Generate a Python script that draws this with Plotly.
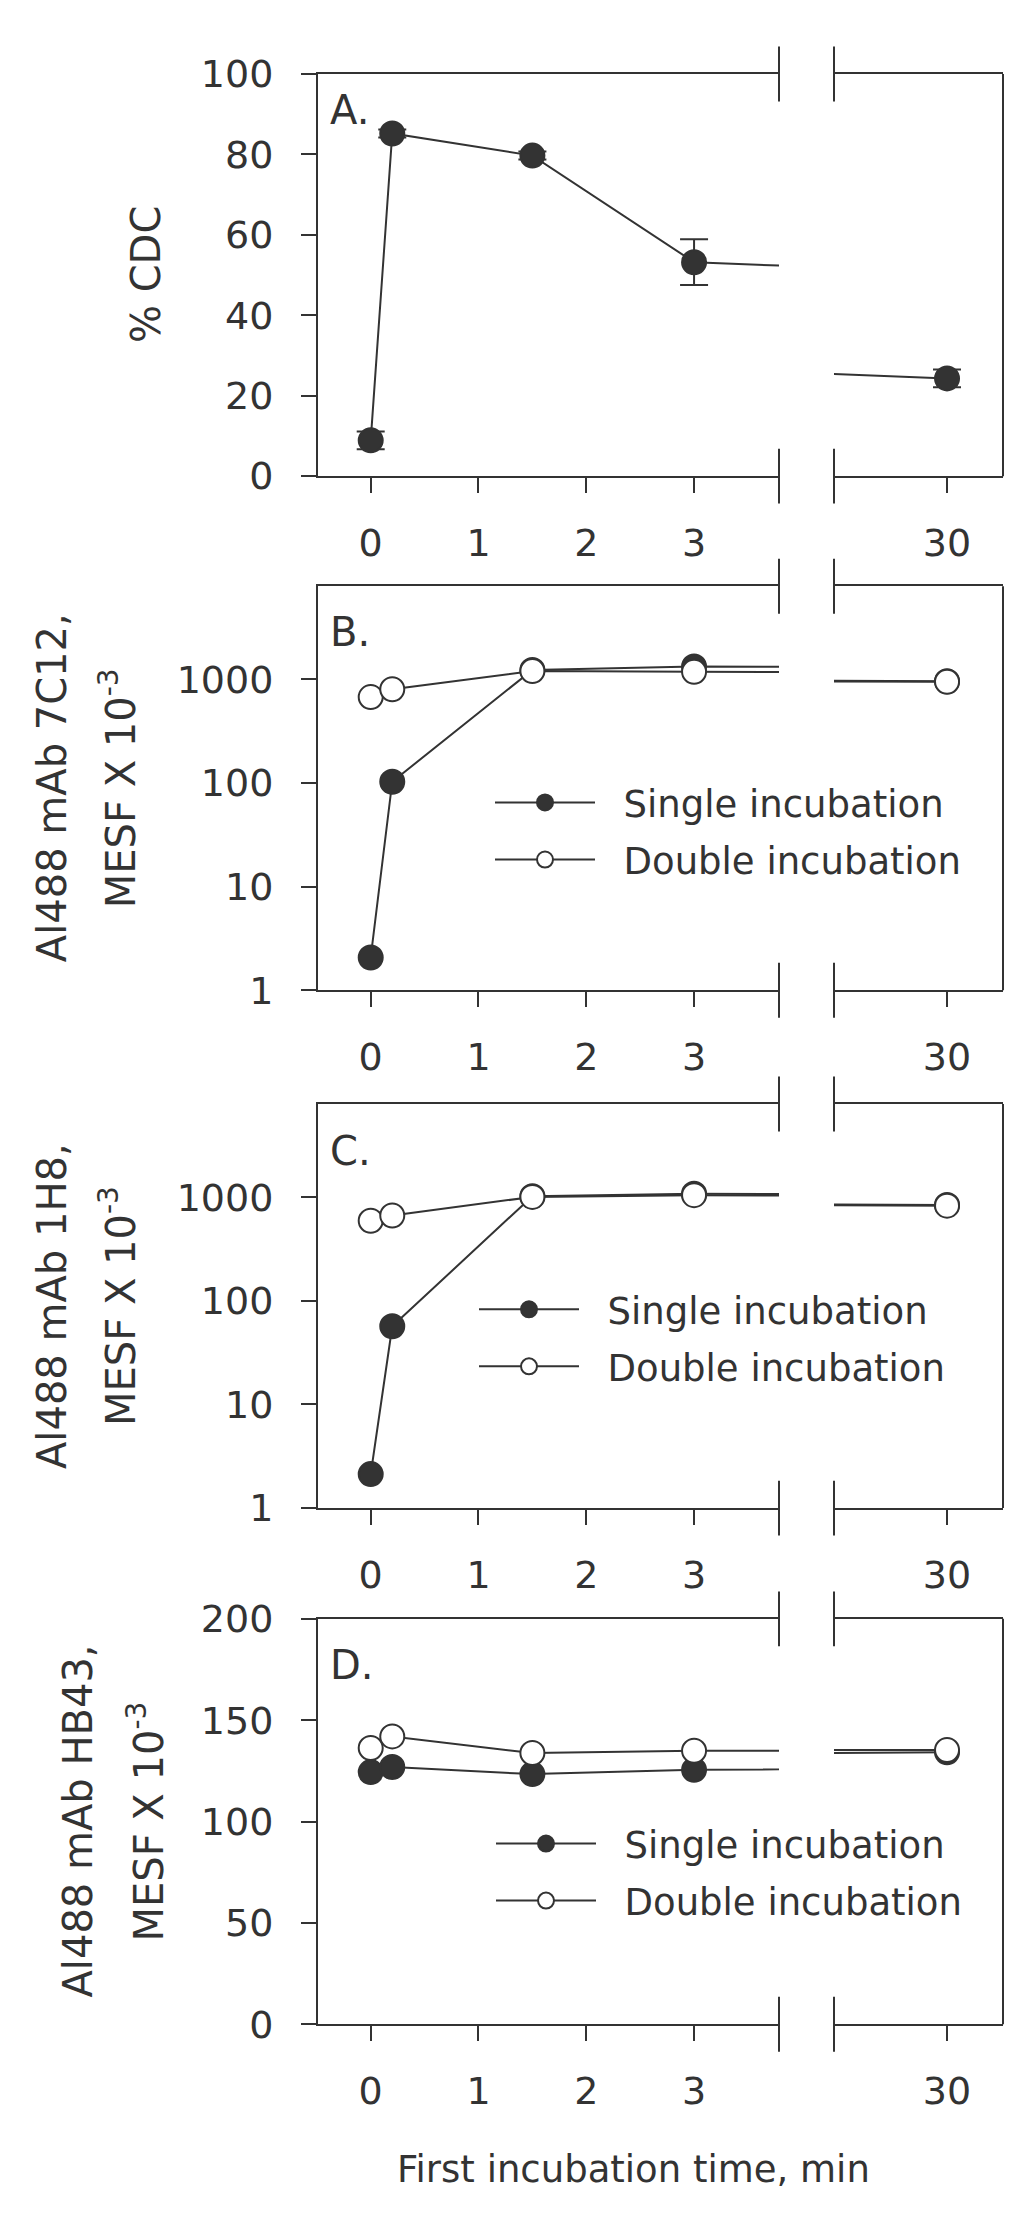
import plotly.graph_objects as go

# ---------------- data ----------------
time_min = [0, 0.2, 1.5, 3, 30]
left_ticks = [0, 1, 2, 3]
right_ticks = [30]

cdc_pct = [8.9, 85.2, 79.7, 53.2, 24.3]
cdc_err = [2.2, 1.0, 1.0, 5.7, 2.2]

mab7c12_single = [2.07, 103, 1236, 1337, 960]
mab7c12_double = [676, 804, 1208, 1189, 950]

mab1h8_single = [2.13, 56.8, 1023, 1081, 840]
mab1h8_double = [592, 666, 1007, 1047, 829]

hb43_single = [124.4, 126.9, 123.4, 125.5, 134.2]
hb43_double = [136.3, 142.0, 133.8, 134.9, 135.3]

series_names = ["Single incubation", "Double incubation"]
panel_letters = ["A.", "B.", "C.", "D."]

# ---------------- layout helpers ----------------
W, H = 1024, 2231
def px2x(p):
    return p / W
def px2y(p):
    return 1 - p / H

INK = "#333333"
FONT = "DejaVu Sans"
L_LEFT, L_RIGHT = 318, 779      # left segment (px)
R_LEFT, R_RIGHT = 834, 1003     # right segment (px)
panels_px = [(53, 463.3), (575.6, 987.7), (1103.7, 1516), (1629, 2042.5)]
NBSP2 = "\u00a0\u00a0"

fig = go.Figure()

def add_series(i, y, name, filled, legend_name, group, err=None, showleg=True):
    for seg in (0, 1):
        xa = "x%d" % (2 * i + 1 + seg)
        ya = "y%d" % (i + 1)
        fig.add_trace(go.Scatter(
            x=time_min, y=y, xaxis=xa, yaxis=ya, mode="lines+markers",
            name=NBSP2 + name,
            legendgroup=group,
            line=dict(color=INK, width=2),
            marker=dict(symbol="circle", size=24,
                        color=INK if filled else "white",
                        line=dict(color=INK, width=2)),
            error_y=(dict(type="data", array=err, color=INK, thickness=2, width=14)
                     if err is not None else None),
            showlegend=(showleg and seg == 0),
            legend=legend_name,
            cliponaxis=True,
        ))

add_series(0, cdc_pct, "% CDC", True, "legend", "a", err=cdc_err, showleg=False)
add_series(1, mab7c12_single, series_names[0], True, "legend", "b1")
add_series(1, mab7c12_double, series_names[1], False, "legend", "b2")
add_series(2, mab1h8_single, series_names[0], True, "legend2", "c1")
add_series(2, mab1h8_double, series_names[1], False, "legend2", "c2")
add_series(3, hb43_single, series_names[0], True, "legend3", "d1")
add_series(3, hb43_double, series_names[1], False, "legend3", "d2")

axis_common = dict(showgrid=False, zeroline=False, showline=True, linecolor=INK,
                   linewidth=2, ticks="outside", ticklen=15, tickwidth=2,
                   tickcolor=INK, tickfont=dict(family=FONT, size=38, color=INK))

y_specs = [
    dict(type="linear", range=[0, 100], tickvals=[0, 20, 40, 60, 80, 100]),
    dict(type="log", range=[0, 3.9], tickvals=[1, 10, 100, 1000],
         ticktext=["1", "10", "100", "1000"]),
    dict(type="log", range=[0, 3.9], tickvals=[1, 10, 100, 1000],
         ticktext=["1", "10", "100", "1000"]),
    dict(type="linear", range=[0, 200], tickvals=[0, 50, 100, 150, 200]),
]

layout = dict(width=W, height=H, margin=dict(l=0, r=0, t=0, b=0),
              paper_bgcolor="white", plot_bgcolor="white", showlegend=True)
shapes = []
annotations = []

for i, (top, bot) in enumerate(panels_px):
    ydom = [px2y(bot), px2y(top)]
    xl = 2 * i + 1
    xr = 2 * i + 2
    yk = i + 1
    layout["xaxis%s" % ("" if xl == 1 else xl)] = dict(
        axis_common, domain=[px2x(L_LEFT), px2x(L_RIGHT)], range=[-0.489, 3.788],
        tickvals=left_ticks, anchor="y%d" % yk, mirror=True, ticklabelstandoff=17)
    layout["xaxis%d" % xr] = dict(
        axis_common, domain=[px2x(R_LEFT), px2x(R_RIGHT)], range=[28.95, 30.52],
        tickvals=right_ticks, anchor="y%d" % yk, mirror=True, ticklabelstandoff=17)
    layout["yaxis%s" % ("" if yk == 1 else yk)] = dict(
        axis_common, domain=ydom, anchor="x%d" % xl, ticklabelstandoff=20,
        **y_specs[i])
    # right frame line
    shapes.append(dict(type="line", xref="paper", yref="paper",
                       x0=px2x(R_RIGHT), x1=px2x(R_RIGHT), y0=px2y(top), y1=px2y(bot),
                       line=dict(color=INK, width=2)))
    # axis break marks
    for bx in (L_RIGHT, R_LEFT):
        for by in (top, bot):
            shapes.append(dict(type="line", xref="paper", yref="paper",
                               x0=px2x(bx), x1=px2x(bx),
                               y0=px2y(by - 28), y1=px2y(by + 28),
                               line=dict(color=INK, width=2)))

# panel letters
letter_y = [90, 622, 1152, 1676]
for i, ly in enumerate(letter_y):
    annotations.append(dict(text=panel_letters[i], x=px2x(328), y=px2y(ly),
                            xref="paper", yref="paper", xanchor="left", yanchor="middle",
                            showarrow=False, font=dict(family=FONT, size=40, color=INK)))

# y-axis titles
def ytitle(text, xpx, panel):
    top, bot = panels_px[panel]
    annotations.append(dict(text=text, x=px2x(xpx), y=px2y((top + bot) / 2),
                            xref="paper", yref="paper", xanchor="center",
                            yanchor="middle", textangle=-90, showarrow=False,
                            font=dict(family=FONT, size=40, color=INK)))

ytitle("% CDC", 146, 0)
ytitle("Al488 mAb 7C12,", 52, 1)
ytitle("MESF X 10<sup>-3</sup>", 118, 1)
ytitle("Al488 mAb 1H8,", 52, 2)
ytitle("MESF X 10<sup>-3</sup>", 118, 2)
ytitle("Al488 mAb HB43,", 78, 3)
ytitle("MESF X 10<sup>-3</sup>", 146, 3)

# x-axis title
annotations.append(dict(text="First incubation time, min", x=px2x(633), y=px2y(2191),
                        xref="paper", yref="paper", xanchor="center", yanchor="middle",
                        showarrow=False, font=dict(family=FONT, size=37, color=INK)))

legend_style = dict(xanchor="left", yanchor="top", bgcolor="rgba(0,0,0,0)",
                    borderwidth=0, itemwidth=100, tracegroupgap=6,
                    font=dict(family=FONT, size=37, color=INK))
layout["legend"] = dict(legend_style, x=px2x(490), y=px2y(765))
layout["legend2"] = dict(legend_style, x=px2x(474), y=px2y(1282))
layout["legend3"] = dict(legend_style, x=px2x(491), y=px2y(1827))

layout["shapes"] = shapes
layout["annotations"] = annotations
fig.update_layout(**layout)

fig.write_html("out.html", config={"displayModeBar": False},
               post_script="document.body.style.margin='0';")
